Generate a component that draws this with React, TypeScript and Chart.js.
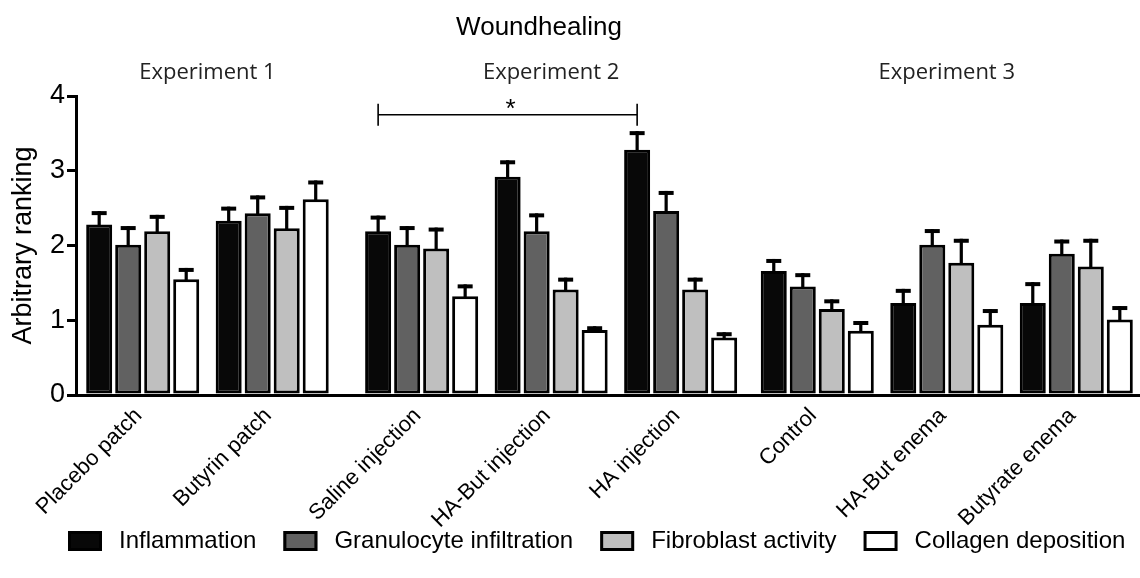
import React, { useEffect, useRef } from 'react';
import { Chart, registerables } from 'chart.js';

Chart.register(...registerables);

// ---------- data ----------
const chartTitle = 'Woundhealing';
const yAxisTitle = 'Arbitrary ranking';
const categories = [
  'Placebo patch',
  'Butyrin patch',
  'Saline injection',
  'HA-But injection',
  'HA injection',
  'Control',
  'HA-But enema',
  'Butyrate enema',
];
const experiments = ['Experiment 1', 'Experiment 2', 'Experiment 3'];
const experimentOf = [0, 0, 1, 1, 1, 2, 2, 2];
const seriesNames = ['Inflammation', 'Granulocyte infiltration', 'Fibroblast activity', 'Collagen deposition'];

const inflammation = [2.28, 2.33, 2.19, 2.92, 3.28, 1.66, 1.23, 1.23];
const inflammationErr = [0.18, 0.19, 0.21, 0.22, 0.25, 0.16, 0.19, 0.28];
const granulocyte = [2.01, 2.43, 2.01, 2.19, 2.46, 1.45, 2.01, 1.89];
const granulocyteErr = [0.25, 0.24, 0.25, 0.24, 0.27, 0.18, 0.21, 0.19];
const fibroblast = [2.19, 2.23, 1.96, 1.41, 1.41, 1.15, 1.77, 1.72];
const fibroblastErr = [0.22, 0.30, 0.28, 0.16, 0.16, 0.13, 0.32, 0.37];
const collagen = [1.55, 2.62, 1.32, 0.87, 0.77, 0.86, 0.94, 1.01];
const collagenErr = [0.15, 0.25, 0.16, 0.05, 0.07, 0.13, 0.21, 0.18];

const yTicks = [0, 1, 2, 3, 4];

// significance bracket: between Saline injection and HA injection (Inflammation)
const sigFromIndex = 2;
const sigToIndex = 4;
const sigLabel = '*';
const sigLevel = 3.75;

// ---------- layout / style ----------
const SANS = '"Liberation Sans", Arial, Helvetica, sans-serif';
const EXP_FONT = '"Open Sans", "Noto Sans", sans-serif';
const EXP_OFFSETS = [0, 0.154, 0.209];
const X_MIN = -0.515;
const X_MAX = 7.701;
const fills = ['#080808', '#616161', '#bfbfbf', '#ffffff'];

const positions = categories.map((_, i) => i + EXP_OFFSETS[experimentOf[i]]);
const seriesValues = [inflammation, granulocyte, fibroblast, collagen];
const seriesErrors = [inflammationErr, granulocyteErr, fibroblastErr, collagenErr];

const annotationPlugin = {
  id: 'annotations',
  afterDatasetsDraw(chart: any) {
    const ctx = chart.ctx as CanvasRenderingContext2D;
    const xs = chart.scales.x;
    const ys = chart.scales.y;
    ctx.save();
    // error bars (upper only)
    chart.data.datasets.forEach((ds: any, di: number) => {
      const meta = chart.getDatasetMeta(di);
      meta.data.forEach((bar: any, i: number) => {
        const v = seriesValues[di][i];
        const e = seriesErrors[di][i];
        const top = ys.getPixelForValue(v + e);
        const bx = bar.x;
        ctx.fillStyle = '#000';
        ctx.fillRect(bx - 1.6, top, 3.2, bar.y - top + 2);
        ctx.fillRect(bx - 7.5, top, 15, 4);
      });
    });

    // significance bracket
    const m0 = chart.getDatasetMeta(0);
    const x1 = m0.data[sigFromIndex].x;
    const x2 = m0.data[sigToIndex].x;
    const yl = ys.getPixelForValue(sigLevel);
    ctx.strokeStyle = '#000';
    ctx.lineWidth = 1.6;
    ctx.beginPath();
    ctx.moveTo(x1, yl);
    ctx.lineTo(x2, yl);
    ctx.moveTo(x1, yl - 11);
    ctx.lineTo(x1, yl + 11);
    ctx.moveTo(x2, yl - 11);
    ctx.lineTo(x2, yl + 11);
    ctx.stroke();
    ctx.fillStyle = '#000';
    ctx.font = `26px ${SANS}`;
    ctx.textAlign = 'center';
    ctx.textBaseline = 'alphabetic';
    ctx.fillText(sigLabel, (x1 + x2) / 2 + 3, yl + 2);

    // experiment labels
    ctx.font = `22px ${EXP_FONT}`;
    ctx.fillStyle = '#222';
    ctx.textBaseline = 'middle';
    experiments.forEach((name, ei) => {
      const idx = experimentOf.map((e, i) => (e === ei ? i : -1)).filter((i) => i >= 0);
      const mean = idx.reduce((s, i) => s + positions[i], 0) / idx.length;
      ctx.fillText(name, xs.getPixelForValue(mean), 73);
    });

    // title
    ctx.font = `26px ${SANS}`;
    ctx.fillStyle = '#000';
    ctx.fillText(chartTitle, 539, 28);

    // legend
    ctx.font = `24px ${SANS}`;
    ctx.textAlign = 'left';
    ctx.textBaseline = 'middle';
    const ly = 541;
    let lx = 68;
    chart.data.datasets.forEach((ds: any) => {
      ctx.fillStyle = ds.backgroundColor;
      ctx.fillRect(lx, ly - 10, 34, 20);
      ctx.strokeStyle = '#000';
      ctx.lineWidth = 3;
      ctx.strokeRect(lx + 1.5, ly - 8.5, 31, 17);
      lx += 34 + 17;
      ctx.fillStyle = '#000';
      ctx.fillText(ds.label, lx, ly);
      lx += ctx.measureText(ds.label).width + 27;
    });
    ctx.restore();
  },
};

export default function App() {
  const ref = useRef<HTMLCanvasElement | null>(null);
  useEffect(() => {
    document.body.style.margin = '0';
    if (!ref.current) return;
    const chart = new Chart(ref.current, {
      type: 'bar',
      data: {
        datasets: seriesNames.map((name, si) => ({
          label: name,
          data: positions.map((p, i) => ({ x: p, y: seriesValues[si][i] })),
          backgroundColor: fills[si],
          borderColor: '#000',
          borderWidth: 3,
          borderSkipped: false,
          categoryPercentage: 0.896,
          barPercentage: 0.897,
        })),
      },
      options: {
        responsive: false,
        animation: false,
        layout: { padding: { top: 96, left: 0, right: 0, bottom: 0 } },
        plugins: {
          legend: { display: false },
          title: { display: false },
          tooltip: { enabled: false },
        },
        scales: {
          x: {
            type: 'linear',
            min: X_MIN,
            max: X_MAX,
            offset: false,
            grid: { display: false, drawTicks: false },
            border: { display: true, color: '#000', width: 3 },
            afterBuildTicks: (s: any) => {
              s.ticks = positions.map((v) => ({ value: v }));
            },
            afterFit: (s: any) => {
              s.height = 183;
            },
            ticks: {
              autoSkip: false,
              minRotation: 45,
              maxRotation: 45,
              padding: 8,
              labelOffset: -4,
              color: '#000',
              font: { family: SANS, size: 22 },
              callback: (_v: any, i: number) => categories[i],
            },
          },
          y: {
            min: 0,
            max: 4,
            afterFit: (s: any) => {
              s.width = 76;
            },
            afterBuildTicks: (s: any) => {
              s.ticks = yTicks.map((v) => ({ value: v }));
            },
            ticks: { color: '#000', font: { family: SANS, size: 27 }, padding: 2 },
            grid: {
              display: true,
              drawOnChartArea: false,
              drawTicks: true,
              tickLength: 9,
              color: '#000',
              lineWidth: 3,
            },
            border: { display: true, color: '#000', width: 3 },
            title: {
              display: true,
              text: yAxisTitle,
              color: '#000',
              font: { family: SANS, size: 27 },
              padding: { top: 7, bottom: 0 },
            },
          },
        },
      },
      plugins: [annotationPlugin],
    } as any);
    return () => chart.destroy();
  }, []);
  return (
    <div style={{ width: 1140, height: 578 }}>
      <canvas ref={ref} width={1140} height={578} style={{ display: 'block' }} />
    </div>
  );
}
